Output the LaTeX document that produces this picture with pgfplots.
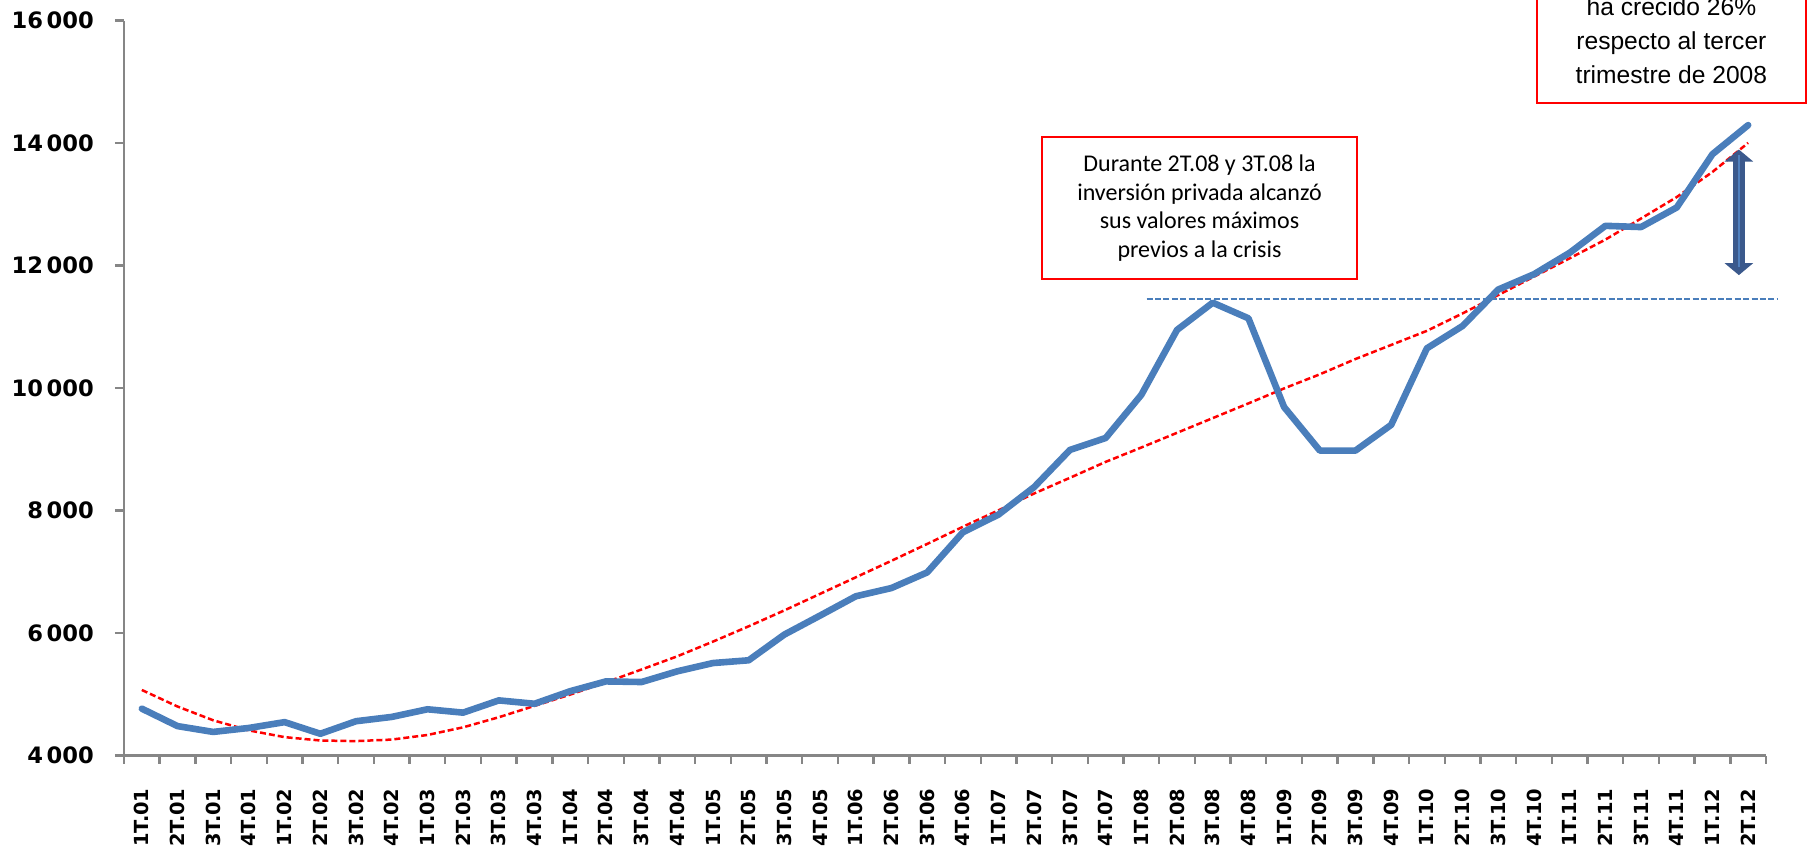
\documentclass[border=0pt]{standalone}
\usepackage{pgfplots}
\pgfplotsset{compat=1.18}
\usepackage{pgfplotstable}
\usetikzlibrary{arrows.meta}
\usepackage{fontspec}
\setmainfont{Liberation Sans}
\newfontfamily\dejavu{DejaVu Sans}
\newfontfamily\calibri{Carlito}
\newfontfamily\arial{Liberation Sans}
\definecolor{blueline}{HTML}{4A7EBB}
\definecolor{axisgray}{HTML}{868686}
\definecolor{arrowdark}{HTML}{3B598C}
\definecolor{arrowlight}{HTML}{5080BE}

\pgfplotstableread{
x blue trend
0 4765 5070
1 4480 4800
2 4385 4575
3 4450 4410
4 4545 4300
5 4355 4245
6 4560 4235
7 4630 4260
8 4755 4335
9 4700 4460
10 4900 4625
11 4845 4810
12 5050 4995
13 5210 5195
14 5200 5405
15 5375 5620
16 5510 5860
17 5555 6110
18 5975 6370
19 6285 6640
20 6600 6910
21 6735 7180
22 6990 7455
23 7645 7735
24 7935 8005
25 8385 8280
26 8990 8535
27 9185 8795
28 9890 9030
29 10950 9270
30 11395 9510
31 11140 9750
32 9690 9995
33 8980 10225
34 8980 10475
35 9400 10705
36 10650 10935
37 11015 11220
38 11610 11520
39 11860 11820
40 12210 12120
41 12650 12425
42 12630 12770
43 12950 13120
44 13820 13530
45 14295 14005
}\datatable

\begin{document}
\begin{tikzpicture}
\begin{axis}[
  at={(0pt,0pt)}, anchor=south west,
  scale only axis, width=821pt, height=367.4pt,
  xmin=-0.5, xmax=45.5, ymin=4000, ymax=16000,
  clip=false,
  axis x line*=bottom, axis y line*=left,
  axis line style={draw=axisgray, line width=1.2pt},
  tick align=outside,
  tick style={draw=axisgray, line width=1.2pt},
  major tick length=4.5pt,
  minor tick length=4pt,
  xtick={0,...,45},
  major x tick style={draw=none},
  minor xtick={-0.5,0.5,...,45.5},
  xticklabels={1T.01,2T.01,3T.01,4T.01,1T.02,2T.02,3T.02,4T.02,1T.03,2T.03,3T.03,4T.03,1T.04,2T.04,3T.04,4T.04,1T.05,2T.05,3T.05,4T.05,1T.06,2T.06,3T.06,4T.06,1T.07,2T.07,3T.07,4T.07,1T.08,2T.08,3T.08,4T.08,1T.09,2T.09,3T.09,4T.09,1T.10,2T.10,3T.10,4T.10,1T.11,2T.11,3T.11,4T.11,1T.12,2T.12},
  xticklabel style={rotate=90, anchor=east, font=\dejavu\bfseries\fontsize{9.7}{10}\selectfont},
  xticklabel shift=8.5pt,
  ytick={4000,6000,...,16000},
  yticklabels={4\,000,6\,000,8\,000,10\,000,12\,000,14\,000,16\,000},
  yticklabel style={font=\dejavu\bfseries\fontsize{11.3}{12}\selectfont},
  yticklabel shift=7pt,
]
\addplot[red, line width=1.25pt, dash pattern=on 3pt off 1.5pt] table[x=x, y=trend] {\datatable};
\addplot[blueline, line width=3.3pt, line join=round, line cap=round] table[x=x, y=blue] {\datatable};
\addplot[blueline, line width=1pt, dash pattern=on 3pt off 1.2pt] coordinates {(28.15,11450) (45.8,11450)};
\draw[arrowdark, line width=6pt, {Triangle[width=14pt,length=6pt]}-{Triangle[width=14pt,length=6pt]}] (axis cs:44.74,11845) -- (axis cs:44.74,13896);
\draw[arrowlight, line width=1pt] (axis cs:44.74,11970) -- (axis cs:44.74,13800);
\end{axis}
\node[draw=red, line width=1pt, fill=white, minimum width=157.5pt, minimum height=71pt, inner sep=0pt, align=center, font=\calibri\fontsize{12}{14.3}\selectfont] at (537.75pt,273.75pt) {Durante 2T.08 y 3T.08 la\\inversión privada alcanzó\\sus valores máximos\\previos a la crisis};
\draw[red, line width=1pt, fill=white] (706.35pt,326.4pt) rectangle (841pt,400pt);
\node[anchor=base, inner sep=0pt, font=\arial\fontsize{12.3}{14}\selectfont] at (773.7pt,370pt) {ha crecido 26\%};
\node[anchor=base, inner sep=0pt, font=\arial\fontsize{12.3}{14}\selectfont] at (773.7pt,353pt) {respecto al tercer};
\node[anchor=base, inner sep=0pt, font=\arial\fontsize{12.3}{14}\selectfont] at (773.7pt,336.1pt) {trimestre de 2008};
\pgfresetboundingbox
\path[use as bounding box] (-62pt,-47.75pt) rectangle (841.5pt,377.75pt);
\end{tikzpicture}
\end{document}
